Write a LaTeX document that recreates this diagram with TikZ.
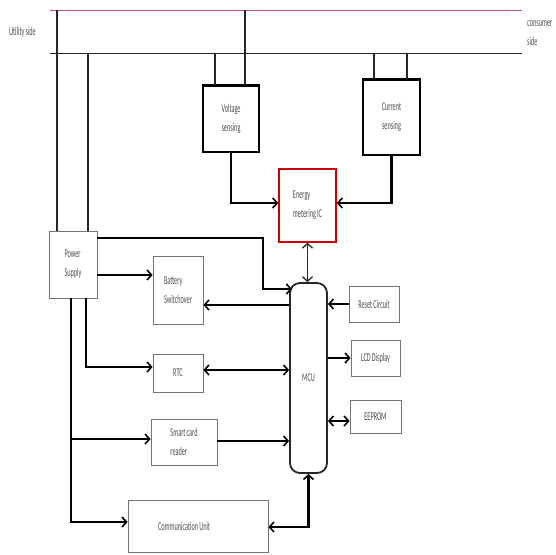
\documentclass[tikz,border=0pt]{standalone}
\usepackage{fontspec}
\newfontfamily\lbl[FakeStretch=0.52,WordSpace=0.8]{Carlito}
\usetikzlibrary{arrows.meta}
\definecolor{busred}{RGB}{196,86,106}
\begin{document}
\begin{tikzpicture}[x=1pt,y=-1pt,
  every node/.style={font=\lbl\fontsize{12}{19}\selectfont, text=black!70, inner sep=0pt},
  gbox/.style={draw=black!55, line width=0.8pt},
  sbox/.style={draw=black, line width=1.3pt, align=center},
  redbox/.style={draw=red!80!black, line width=1.5pt, align=left},
  mcubox/.style={draw=black!85, line width=1.8pt, rounded corners=10pt},
  bus/.style={line width=1pt},
  drop/.style={draw=black!85, line width=1.5pt},
  conn/.style={draw=black, line width=2.2pt},
  arr/.style={conn, -{Straight Barb[length=4.5pt,width=10pt,line width=1.6pt]}},
  arrboth/.style={conn, {Straight Barb[length=4.5pt,width=10pt,line width=1.6pt]}-{Straight Barb[length=4.5pt,width=10pt,line width=1.6pt]}},
  thinboth/.style={draw=black!85, line width=1.4pt, {Straight Barb[length=4.5pt,width=10pt,line width=1.3pt]}-{Straight Barb[length=4.5pt,width=10pt,line width=1.3pt]}}
]
\useasboundingbox (0,0) rectangle (556,554);

% buses
\coordinate (rl) at (50,10);  \coordinate (rr) at (522,10);
\coordinate (bl) at (50,53);  \coordinate (br) at (522,53);
\draw[bus, busred] (rl) -- (rr);
\draw[bus, black!85] (bl) -- (br);
\node[anchor=west] (util) at (9,32) {Utility side};
\node[anchor=west, align=left] (cons) at (527,33) {consumer\\side};

% boxes
\node[gbox, align=left, minimum width=48pt, minimum height=67pt] (ps) at (73,264.5) {Power\\Supply};
\node[sbox, minimum width=56pt, minimum height=66pt] (vs) at (231,119) {Voltage\\sensing};
\node[sbox, minimum width=57pt, minimum height=75pt] (cs) at (391.5,117.5) {Current\\sensing};
\node[redbox, minimum width=57pt, minimum height=73pt] (emic) at (307.5,205.5) {Energy\\metering IC};
\node[mcubox, minimum width=37pt, minimum height=190pt] (mcu) at (308.5,378) {MCU};
\node[gbox, align=left, minimum width=50pt, minimum height=68pt] (bat) at (178,290) {Battery\\Switchover};
\node[gbox, minimum width=50pt, minimum height=38pt] (rtc) at (178,373) {RTC};
\node[gbox, minimum width=50pt, minimum height=36pt] (reset) at (374,304) {Reset Circuit};
\node[gbox, minimum width=49pt, minimum height=36pt] (lcd) at (375.5,358) {LCD Display};
\node[gbox, minimum width=51pt, minimum height=33pt] (eeprom) at (375.5,416.5) {EEPROM};
\node[gbox, align=left, minimum width=66pt, minimum height=46pt] (scr) at (184,442) {Smart card\\reader};
\node[gbox, minimum width=140pt, minimum height=52pt] (comm) at (198,526) {\makebox[80pt][l]{Communication Unit}};

% thick top edges of sensing boxes
\draw[line width=3pt] (vs.north west) -- (vs.north east);
\draw[line width=3pt] (cs.north west) -- (cs.north east);

% drops from buses
\coordinate (t1) at (57,10);  \coordinate (t2) at (88,53);
\coordinate (v1) at (215,53); \coordinate (v2) at (245,10);
\coordinate (c1) at (374,53); \coordinate (c2) at (407,53);
\draw[drop] (t1) -- (t1 |- ps.north);
\draw[drop] (t2) -- (t2 |- ps.north);
\draw[drop] (v1) -- (v1 |- vs.north);
\draw[drop] (v2) -- (v2 |- vs.north);
\draw[drop] (c1) -- (c1 |- cs.north);
\draw[drop] (c2) -- (c2 |- cs.north);

% sensing to energy IC
\draw[arr] (vs.south) |- (emic.west |- 0,203);
\draw[arr] (cs.south) |- (emic.east |- 0,203);
\draw[thinboth] (emic.south) -- (emic.south |- mcu.north);

% power supply connections
\coordinate (m1) at (292,289);
\draw[arr] (ps.east |- 0,238) -| (263,289) -- (m1);
\draw[arr] (ps.east |- 0,275) -- (bat.west |- 0,275);
\draw[arr] (86,298) |- (rtc.west |- 0,367);
\draw[arr] (71,298) |- (comm.west |- 0,522);
\draw[arr] (71,439) -- (scr.west |- 0,439);

% MCU connections
\draw[arr] (mcu.west |- 0,305) -- (bat.east |- 0,305);
\draw[arrboth] (mcu.west |- 0,370) -- (rtc.east |- 0,370);
\draw[arr] (scr.east |- 0,441) -- (mcu.west |- 0,441);
\draw[arrboth] (mcu.south) |- (comm.east |- 0,527);
\draw[arr] (reset.west) -- (mcu.east |- reset.west);
\draw[arr] (mcu.east |- lcd.west) -- (lcd.west);
\draw[arrboth] (mcu.east |- 0,421) -- (eeprom.west |- 0,421);
\end{tikzpicture}
\end{document}
